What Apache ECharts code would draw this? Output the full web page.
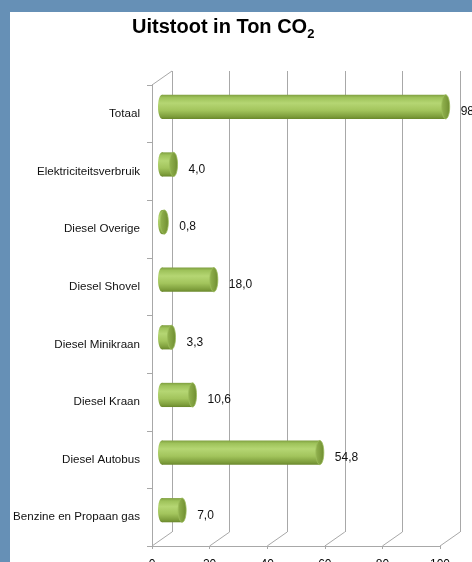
<!DOCTYPE html>
<html>
<head>
<meta charset="utf-8">
<script src="https://cdn.jsdelivr.net/npm/echarts@6/dist/echarts.min.js"></script>
<style>
html,body{margin:0;padding:0;background:#fff;}
#chart{width:472px;height:562px;}
</style>
</head>
<body>
<div id="chart"></div>
<script>
const categories = ['Totaal', 'Elektriciteitsverbruik', 'Diesel Overige', 'Diesel Shovel', 'Diesel Minikraan', 'Diesel Kraan', 'Diesel Autobus', 'Benzine en Propaan gas'];
const values = [98.5, 4.0, 0.8, 18.0, 3.3, 10.6, 54.8, 7.0];
const xTicks = [0, 20, 40, 60, 80, 100];
const titleText = 'Uitstoot in Ton CO';
const titleSub = '2';

const FONT = '"Liberation Sans", Arial, sans-serif';
const GRID_W = 288, GRID_H = 461;
const FRONT = {left: 152, top: 85};
const DX = 20, DY = -14;
const LINE = '#a8a8a8';

const chart = echarts.init(document.getElementById('chart'));

const fmt = v => v.toFixed(1).replace('.', ',');

const bodyGrad = {
  type: 'linear', x: 0, y: 0, x2: 0, y2: 1,
  colorStops: [
    {offset: 0, color: '#7f9f40'},
    {offset: 0.12, color: '#9ec25a'},
    {offset: 0.35, color: '#b5d673'},
    {offset: 0.65, color: '#a2c45c'},
    {offset: 0.9, color: '#7e9e3c'},
    {offset: 1, color: '#6a882c'}
  ]
};
const capGrad = {
  type: 'linear', x: 0, y: 0, x2: 1, y2: 0,
  colorStops: [
    {offset: 0, color: '#93b450'},
    {offset: 0.6, color: '#7e9d3d'},
    {offset: 1, color: '#6c8a30'}
  ]
};

const gridBase = {width: GRID_W, height: GRID_H, containLabel: false, outerBoundsMode: 'none'};

const option = {
  animation: false,
  backgroundColor: '#fff',
  graphic: [
    {type: 'rect', shape: {x: 0, y: 0, width: 472, height: 12}, style: {fill: '#6690b6'}, z: 100},
    {type: 'rect', shape: {x: 0, y: 0, width: 10, height: 562}, style: {fill: '#6690b6'}, z: 100}
  ],
  title: {
    text: '{a|' + titleText + '}{b|' + titleSub + '}',
    left: 127, top: 6,
    textStyle: {
      rich: {
        a: {fontFamily: FONT, fontWeight: 'bold', fontSize: 20, color: '#000', verticalAlign: 'bottom', lineHeight: 26},
        b: {fontFamily: FONT, fontWeight: 'bold', fontSize: 13, color: '#000', verticalAlign: 'bottom', lineHeight: 20, padding: [0, 0, -4, 0]}
      }
    }
  },
  grid: [
    Object.assign({left: FRONT.left, top: FRONT.top}, gridBase),
    Object.assign({left: FRONT.left + DX, top: FRONT.top + DY}, gridBase),
    Object.assign({left: FRONT.left + DX / 2, top: FRONT.top + DY / 2}, gridBase)
  ],
  xAxis: [
    {gridIndex: 0, type: 'value', min: 0, max: 100, interval: 20,
     axisLine: {show: true, lineStyle: {color: LINE, width: 1}},
     axisTick: {show: true, length: 3, lineStyle: {color: LINE}},
     splitLine: {show: false},
     axisLabel: {fontFamily: FONT, fontSize: 12, color: '#000', margin: 13}},
    {gridIndex: 1, type: 'value', min: 0, max: 100, interval: 20,
     axisLine: {show: false}, axisTick: {show: false}, axisLabel: {show: false},
     splitLine: {show: true, lineStyle: {color: LINE, width: 1}}},
    {gridIndex: 2, type: 'value', min: 0, max: 100, show: false}
  ],
  yAxis: [
    {gridIndex: 0, type: 'category', data: categories, inverse: true,
     axisLine: {show: true, lineStyle: {color: LINE, width: 1}},
     axisTick: {show: true, length: 5, lineStyle: {color: LINE}},
     axisLabel: {fontFamily: FONT, fontSize: 11.6, color: '#111', margin: 12, padding: [4, 0, 0, 0]}},
    {gridIndex: 1, type: 'category', data: categories, inverse: true, show: false},
    {gridIndex: 2, type: 'category', data: categories, inverse: true, show: false}
  ],
  series: [
    {
      type: 'custom', xAxisIndex: 0, yAxisIndex: 0, z: 1, silent: true,
      data: xTicks.map(v => [v, 0]),
      encode: {x: 0, y: 1},
      renderItem: function (params, api) {
        const cs = params.coordSys;
        const x = api.coord([api.value(0), 0])[0];
        const yb = cs.y + cs.height;
        const children = [{
          type: 'line',
          shape: {x1: x, y1: yb, x2: x + DX, y2: yb + DY},
          style: {stroke: LINE, lineWidth: 1}
        }];
        if (params.dataIndex === 0) {
          children.push({
            type: 'line',
            shape: {x1: x, y1: cs.y, x2: x + DX, y2: cs.y + DY},
            style: {stroke: LINE, lineWidth: 1}
          });
        }
        return {type: 'group', children: children};
      }
    },
    {
      type: 'custom', xAxisIndex: 2, yAxisIndex: 2, z: 5, silent: true,
      data: values.map((v, i) => [v, i]),
      encode: {x: 0, y: 1},
      renderItem: function (params, api) {
        const v = api.value(0);
        const i = api.value(1);
        const s = api.coord([0, i]);
        const e = api.coord([v, i]);
        const band = api.size([0, 1])[1];
        const h = band * 0.42;
        const rx = 4;
        const yc = s[1];
        return {
          type: 'group',
          children: [
            {type: 'ellipse', shape: {cx: s[0], cy: yc, rx: rx, ry: h / 2}, style: {fill: bodyGrad}},
            {type: 'rect', shape: {x: s[0], y: yc - h / 2, width: Math.max(e[0] - s[0], 0), height: h}, style: {fill: bodyGrad}},
            {type: 'ellipse', shape: {cx: e[0], cy: yc, rx: rx, ry: h / 2}, style: {fill: capGrad, stroke: '#9cbc5a', lineWidth: 0.8}},
            {type: 'text', x: e[0] + rx + 11, y: yc + 5,
             style: {text: fmt(v), fontFamily: FONT, fontSize: 12, fill: '#111', verticalAlign: 'middle', align: 'left'}}
          ]
        };
      }
    }
  ]
};
chart.setOption(option);
</script>
</body>
</html>
